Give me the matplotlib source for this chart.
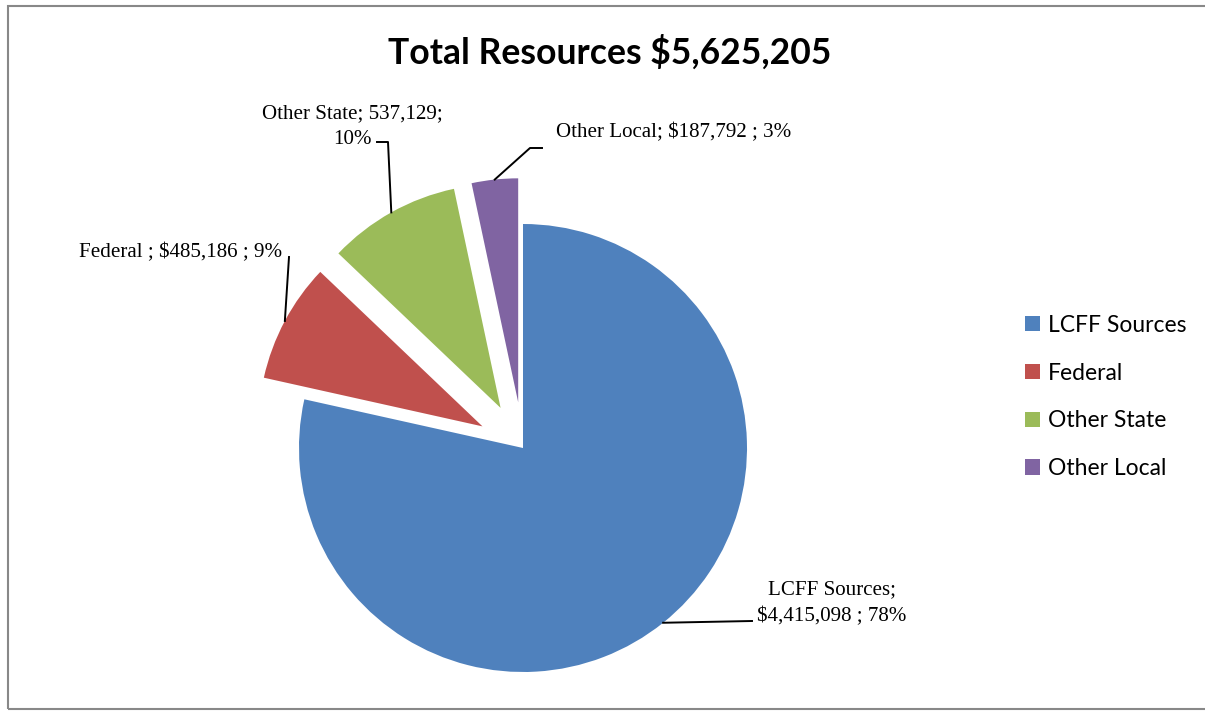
import matplotlib
matplotlib.use("Agg")
import matplotlib.pyplot as plt
import numpy as np
from matplotlib.patches import Rectangle
from matplotlib.lines import Line2D

categories = ["LCFF Sources", "Federal", "Other State", "Other Local"]
values = [4415098, 485186, 537129, 187792]
label_texts = ["LCFF Sources;\n$4,415,098 ; 78%",
               "Federal ; $485,186 ; 9%",
               "Other State; 537,129;\n10%",
               "Other Local; $187,792 ; 3%"]
title = "Total Resources $5,625,205"
colors = ["#4F81BD", "#C0504D", "#9BBB59", "#8064A2"]
explode = [0.0, 0.205, 0.205, 0.205]

W, H = 1205, 712
R = 224.0          # pie radius in px
CX, CY = 523.0, 448.0  # pie center (px from top-left)

fig = plt.figure(figsize=(W / 100, H / 100), dpi=100)
ax = fig.add_axes([0, 0, 1, 1])
ax.axis("off")

def px(x, y):
    """pixel (from top-left) -> data coords"""
    return (x - CX) / R, (CY - y) / R

wedges, _ = ax.pie(values, colors=colors, explode=explode, startangle=90,
                   counterclock=False, radius=1.0, center=(0, 0),
                   wedgeprops=dict(linewidth=0), frame=False)
ax.set_xlim(-CX / R, (W - CX) / R)
ax.set_ylim(-(H - CY) / R, CY / R)
ax.set_aspect("auto")

# label layout: (text anchor px, ha, elbow px list)
layout = [
    dict(pos=(832, 603), ha="center", elbow=[(752, 621)]),
    dict(pos=(282, 253), ha="right", elbow=[(289, 257)]),
    dict(pos=(352, 126.5), ha="center", elbow=[(388, 142), (377, 142)]),
    dict(pos=(556, 133), ha="left", elbow=[(530, 148), (542, 148)]),
]

for w, lab, lay in zip(wedges, label_texts, layout):
    mid = np.deg2rad((w.theta1 + w.theta2) / 2)
    cx, cy = w.center
    sx, sy = cx + w.r * np.cos(mid), cy + w.r * np.sin(mid)
    xs = [sx] + [px(*p)[0] for p in lay["elbow"]]
    ys = [sy] + [px(*p)[1] for p in lay["elbow"]]
    ax.add_line(Line2D(xs, ys, color="black", linewidth=1.4))
    tx, ty = px(*lay["pos"])
    ax.text(tx, ty, lab, ha=lay["ha"], va="center", family="Liberation Serif",
            fontsize=15.1, linespacing=1.5, multialignment="center")

fig.text(610 / W, 1 - 52 / H, title, ha="center", va="center",
         family="Lato", fontweight="bold", fontsize=25.6)

leg = ax.legend(wedges, categories, loc="center left",
                bbox_to_anchor=(1016 / W, 1 - 397 / H), bbox_transform=fig.transFigure,
                frameon=False, prop=dict(family="Lato", size=16.5),
                handlelength=0.66, handleheight=0.66, handletextpad=0.32,
                labelspacing=1.17, borderaxespad=0)

# outer border
fig.patches.append(Rectangle((8 / W, 1 - 709 / H), (W + 10) / W, (709 - 6) / H,
                             transform=fig.transFigure, fill=False,
                             edgecolor="#888888", linewidth=1.5))

fig.savefig("out.png", dpi=100)
